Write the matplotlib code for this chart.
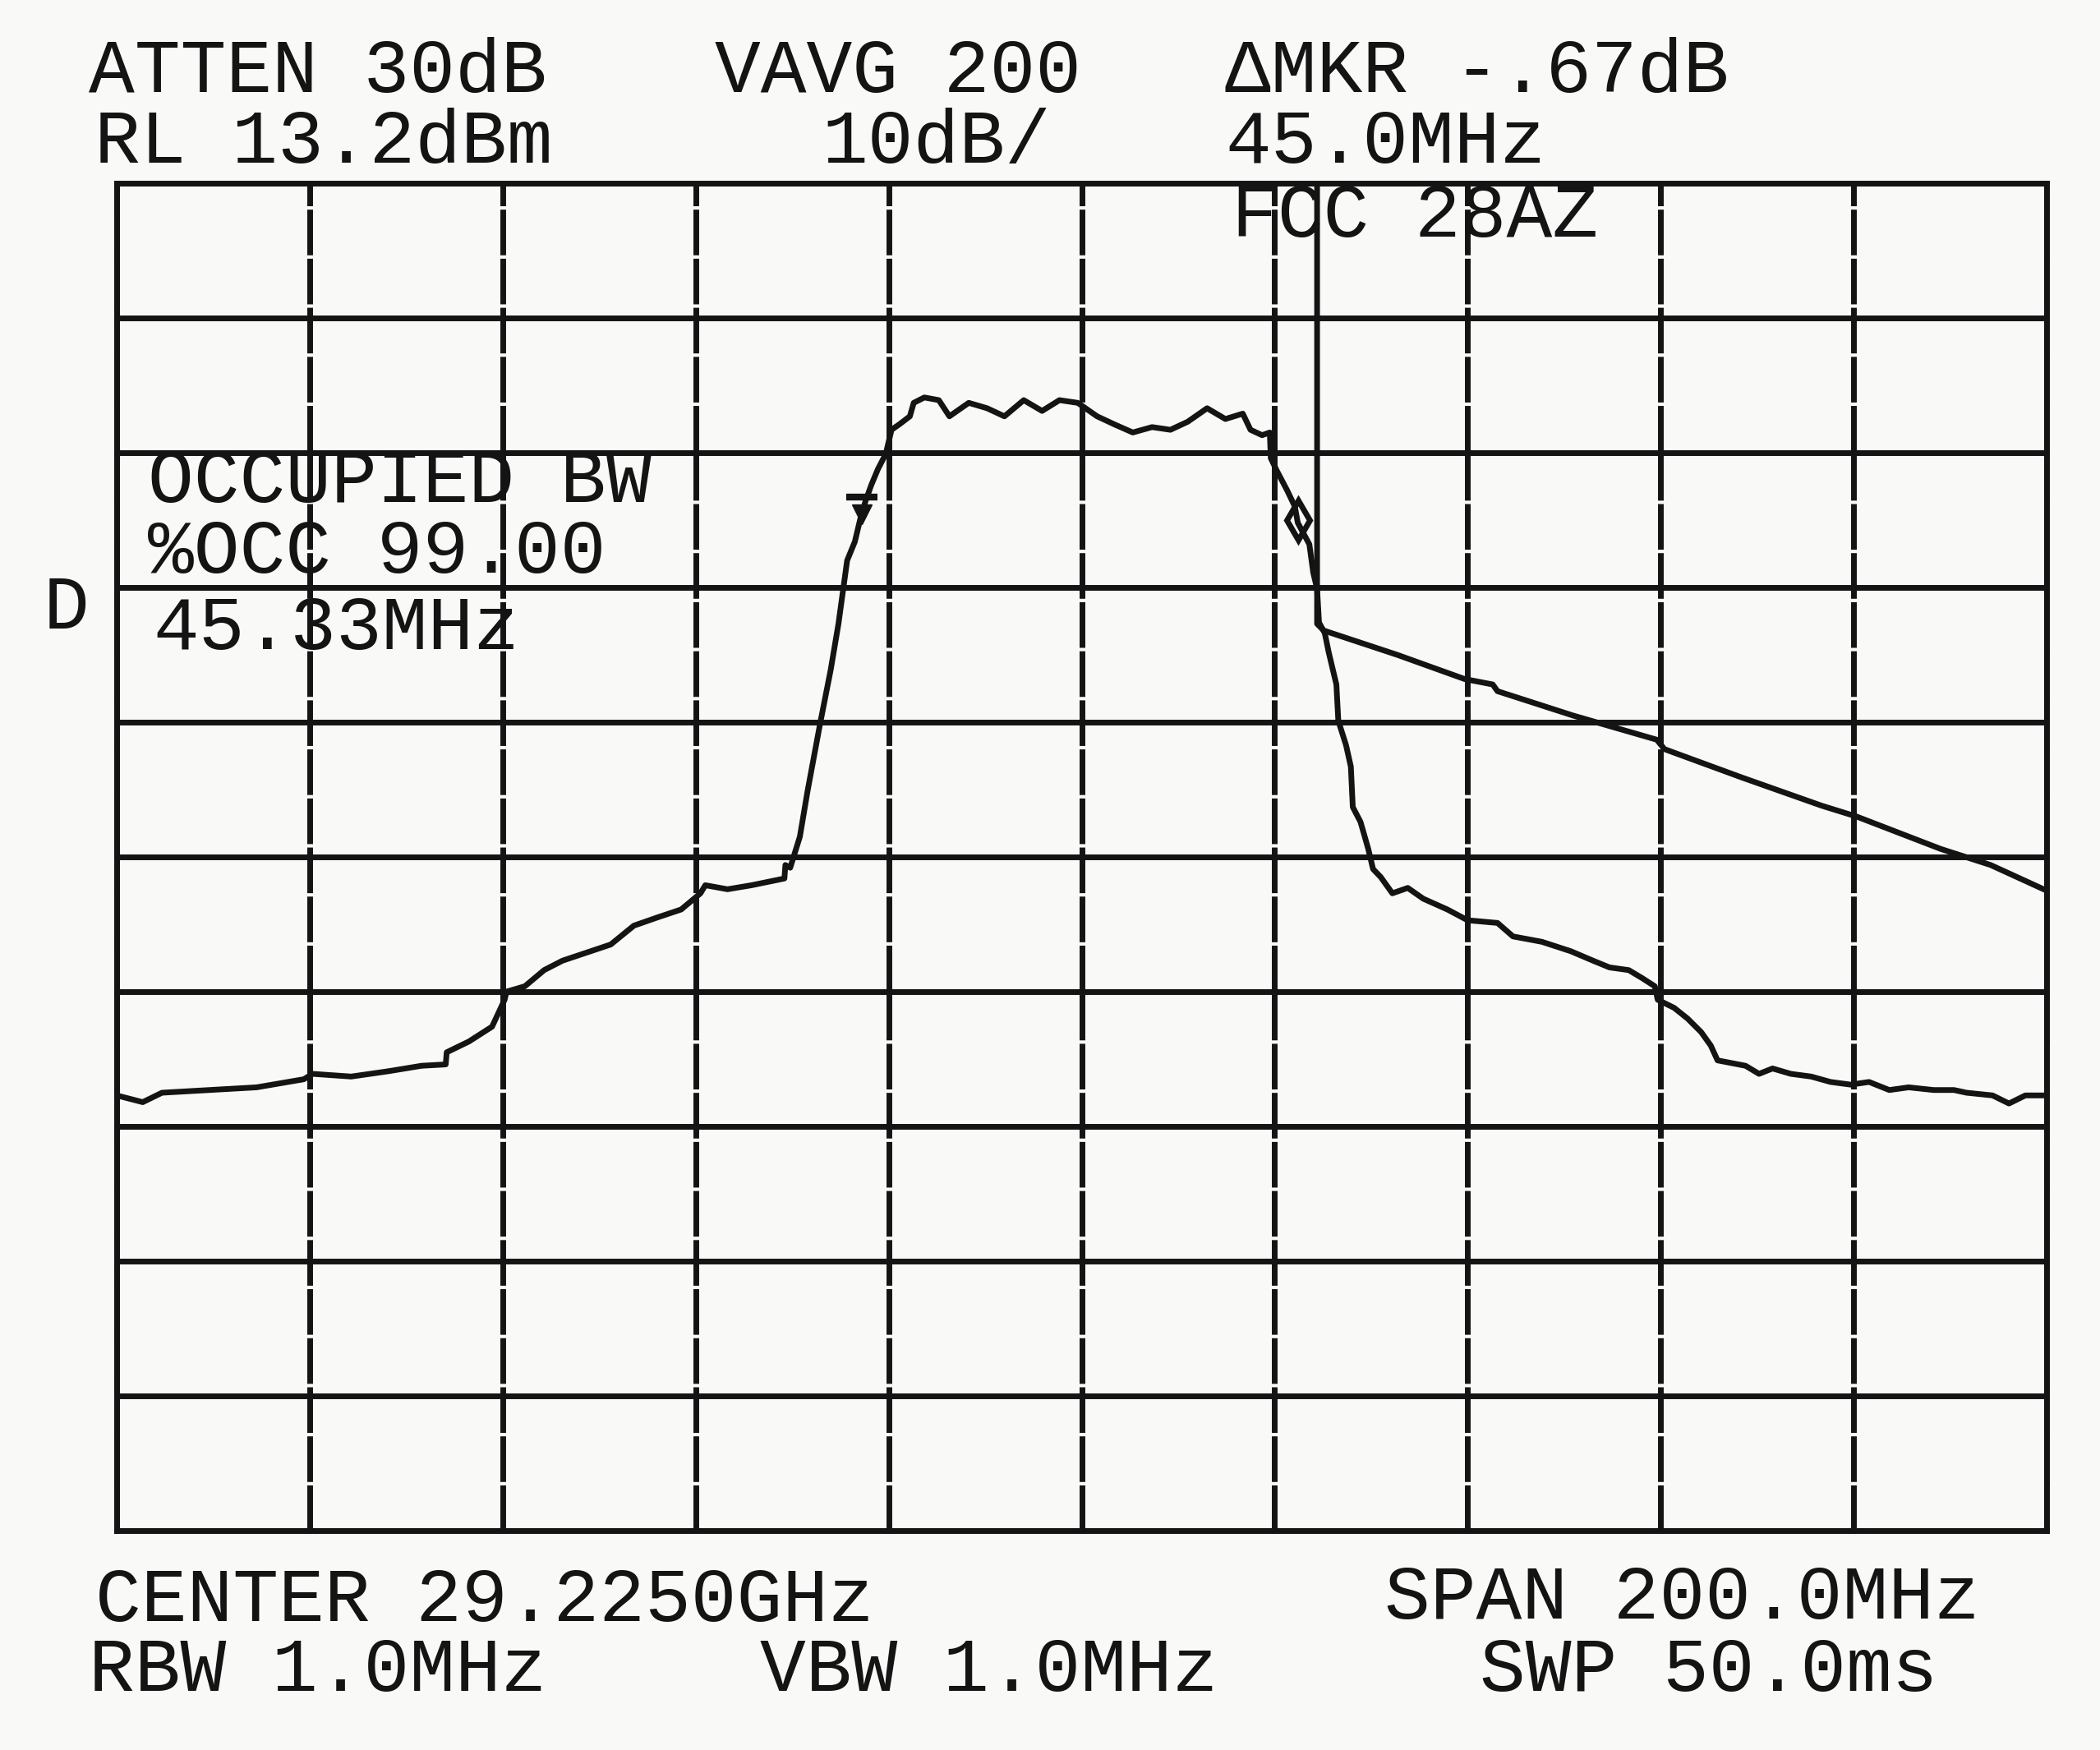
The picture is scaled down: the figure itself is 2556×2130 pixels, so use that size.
"""
Spectrum analyzer plot: occupied bandwidth of a 29.225 GHz carrier
(hard-copy style screen dump, 10 dB/div, 200 MHz span).
"""

import matplotlib
matplotlib.use("Agg")
import matplotlib.pyplot as plt
import numpy as np

# ---- analyzer settings -------------------------------------------------------
REF_LEVEL = 13.2        # dBm, top graticule line
DB_PER_DIV = 10.0
N_DIV = 10
SPAN_MHZ = 200.0

# ---- main trace (offset from centre in MHz, level in dBm) --------------------
TRACE_FREQ = [
    -100.0, -97.3, -95.3, -90.4, -85.5, -80.6, -79.7, -75.7, -71.8, -68.4,
    -65.9, -65.8, -63.5, -61.1, -59.8, -59.6, -57.7, -55.7, -53.8, -51.3,
    -48.8, -46.4, -44.0, -41.5, -39.5, -39.0, -36.7, -34.2, -30.8, -30.7,
    -30.2, -29.2, -28.4, -27.1, -26.0, -25.2, -24.3, -23.5, -22.9, -22.4,
    -21.8, -21.1, -20.3, -19.7, -18.9, -17.8, -17.4, -16.3, -14.8, -13.7,
    -11.7, -9.8, -8.0, -6.0, -4.1, -2.3, -0.4, 1.6, 3.4, 5.3,
    7.3, 9.2, 11.0, 13.0, 14.9, 16.7, 17.5, 18.7, 19.5, 19.6,
    20.2, 21.3, 22.1, 22.4, 23.6, 24.0, 24.4, 24.6, 25.2, 25.6,
    26.4, 26.6, 27.4, 27.9, 28.1, 28.9, 29.7, 30.2, 31.0, 32.2,
    33.8, 35.4, 37.9, 40.0, 43.1, 44.7, 47.7, 50.7, 53.0, 54.7,
    56.7, 58.1, 59.4, 59.7, 61.4, 62.8, 64.2, 65.2, 65.9, 68.8,
    70.2, 71.6, 73.5, 75.6, 77.6, 79.7, 81.6, 83.7, 85.7, 88.3,
    90.4, 91.7, 94.4, 96.1, 97.8, 100.0,
]
TRACE_LEVEL = [
    -54.5, -55.0, -54.3, -54.1, -53.9, -53.3, -52.9, -53.1, -52.7, -52.3,
    -52.2, -51.3, -50.5, -49.4, -47.4, -46.8, -46.4, -45.2, -44.5, -43.9,
    -43.3, -41.9, -41.3, -40.7, -39.5, -38.9, -39.2, -38.9, -38.4, -37.4,
    -37.6, -35.3, -31.9, -26.9, -22.9, -19.5, -14.8, -13.4, -11.6, -10.4,
    -9.2, -8.0, -6.9, -5.1, -4.7, -4.1, -3.1, -2.7, -2.9, -4.1,
    -3.1, -3.5, -4.1, -2.9, -3.7, -2.9, -3.1, -4.1, -4.7, -5.3,
    -4.9, -5.1, -4.5, -3.5, -4.3, -3.9, -5.1, -5.5, -5.3, -7.2,
    -8.1, -9.6, -10.8, -12.0, -13.6, -15.7, -16.9, -19.4, -20.2, -21.6,
    -24.0, -26.7, -28.5, -30.1, -33.1, -34.2, -36.2, -37.7, -38.3, -39.5,
    -39.1, -39.9, -40.7, -41.5, -41.7, -42.7, -43.1, -43.8, -44.5, -45.0,
    -45.2, -45.8, -46.4, -47.4, -48.0, -48.8, -49.8, -50.8, -51.9, -52.3,
    -52.9, -52.5, -52.9, -53.1, -53.5, -53.7, -53.5, -54.1, -53.9, -54.1,
    -54.1, -54.3, -54.5, -55.1, -54.5, -54.5,
]

# ---- second trace (marker line + mask-like slope) ----------------------------
LINE_FREQ = [24.4, 24.4, 25.1, 32.7, 39.7, 42.6, 43.1, 50.9, 59.6, 60.4,
             68.4, 76.7, 80.3, 89.0, 94.2, 100.0]
LINE_LEVEL = [13.2, -19.5, -20.0, -21.8, -23.6, -24.0, -24.5, -26.3, -28.1, -28.8,
              -30.9, -33.0, -33.8, -36.2, -37.4, -39.3]

# ---- occupied bandwidth markers ---------------------------------------------
OBW_LEFT = (-22.8, -11.4)
OBW_RIGHT = (22.4, -11.8)

# ---- annotation text ---------------------------------------------------------
HEADER = [
    ("ATTEN 30dB", 108, 112), ("VAVG 200", 870, 112), ("\u0394MKR -.67dB", 1491, 112),
    ("RL 13.2dBm", 115, 198), ("10dB/", 1000, 198), ("45.0MHz", 1491, 198),
]
FOOTER = [
    ("CENTER 29.2250GHz", 116, 1973), ("SPAN 200.0MHz", 1685, 1970),
    ("RBW 1.0MHz", 108, 2058), ("VBW 1.0MHz", 925, 2058), ("SWP 50.0ms", 1801, 2058),
]
INSIDE = [
    ("FCC 28AZ", 1499, 288),
    ("45.33MHz", 186, 790),
    ("D", 53, 765),
]
OBW_BLOCK = ("OCCUPIED BW\n%OCC 99.00", 180, 697)

W, H = 2556, 2130
INK = "#141414"
PAPER = "#f9f9f7"

plt.rcParams["lines.scale_dashes"] = False
fig = plt.figure(figsize=(W / 100, H / 100), dpi=100, facecolor=PAPER)

left, right, top, bottom = 142, 2491, 223, 1863
ax = fig.add_axes([left / W, 1 - bottom / H, (right - left) / W, (bottom - top) / H])
ax.set_facecolor(PAPER)

bottom_level = REF_LEVEL - DB_PER_DIV * N_DIV
ax.set_xlim(-SPAN_MHZ / 2, SPAN_MHZ / 2)
ax.set_ylim(bottom_level, REF_LEVEL)
ax.set_xticks(np.linspace(-SPAN_MHZ / 2, SPAN_MHZ / 2, N_DIV + 1))
ax.set_yticks(np.linspace(bottom_level, REF_LEVEL, N_DIV + 1))
ax.tick_params(length=0, labelbottom=False, labelleft=False)

LW = 5
ax.xaxis.grid(True, color=INK, linewidth=LW, linestyle=(0, (40, 3)))
ax.yaxis.grid(True, color=INK, linewidth=LW)
ax.set_axisbelow(True)
for side in ("left", "right"):
    ax.spines[side].set_linewidth(LW)
    ax.spines[side].set_color(INK)
    ax.spines[side].set_linestyle((0, (40, 3)))
for side in ("top", "bottom"):
    ax.spines[side].set_linewidth(LW)
    ax.spines[side].set_color(INK)

ax.plot(TRACE_FREQ, TRACE_LEVEL, color=INK, linewidth=LW)
ax.plot(LINE_FREQ, LINE_LEVEL, color=INK, linewidth=LW)

ax.plot(*OBW_LEFT, marker="v", markersize=17, color=INK)
ax.plot(OBW_LEFT[0], OBW_LEFT[1] + 1.3, marker="_", markersize=28, mew=6, color=INK)
ax.plot(*OBW_RIGHT, marker="d", markersize=24, mew=5, fillstyle="none", color=INK)

font = dict(family="Liberation Mono", fontsize=67, color=INK, va="baseline", ha="left")
for txt, x, y in HEADER + FOOTER + INSIDE:
    fig.text(x / W, 1 - y / H, txt, **font)

# two-line block, (x, y) is the baseline of its last line
txt, x, y = OBW_BLOCK
fig.text(x / W, 1 - y / H, txt, linespacing=1.0, ma="left", **font)

fig.savefig("out.png", dpi=100, facecolor=PAPER)
